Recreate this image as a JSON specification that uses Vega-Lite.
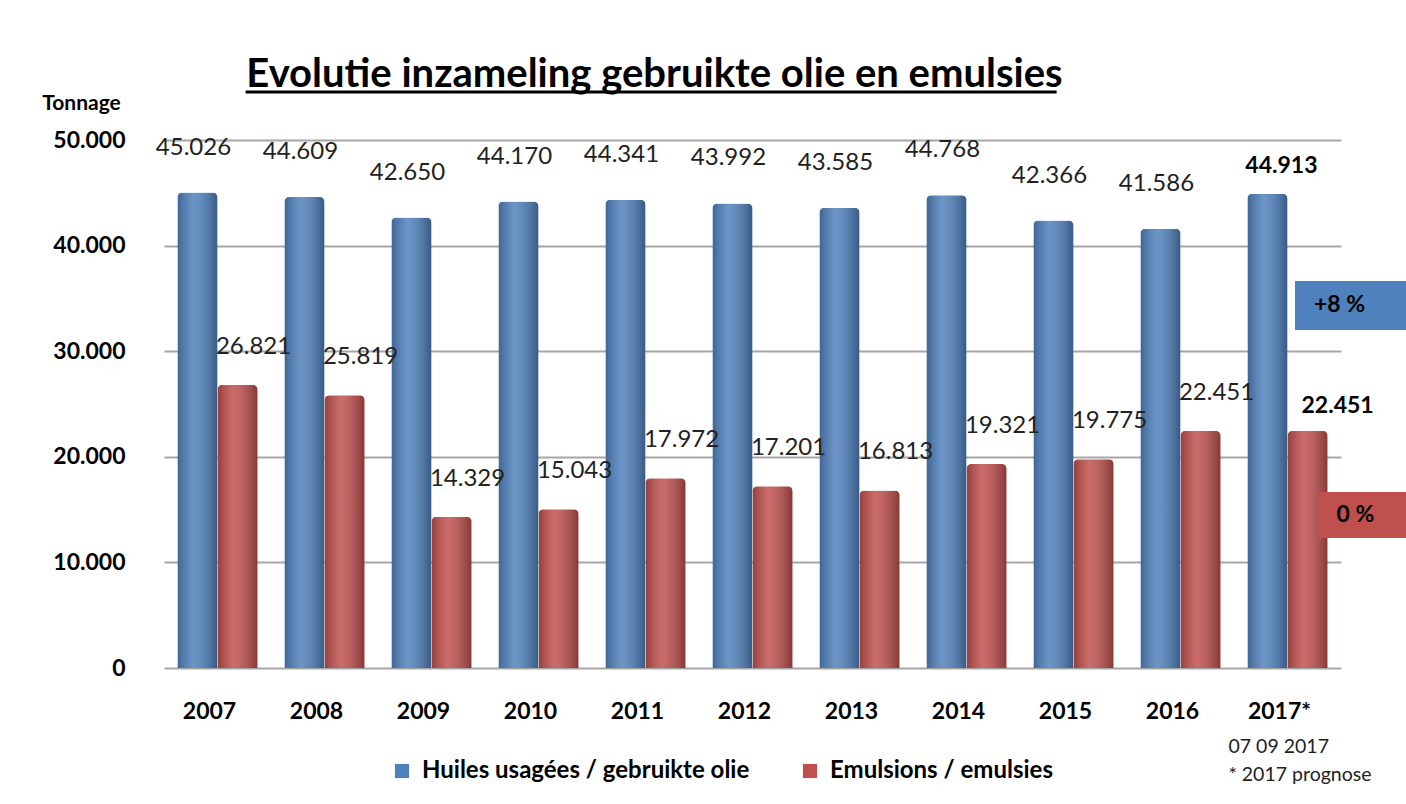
{
  "$schema": "https://vega.github.io/schema/vega-lite/v6.json",
  "width": 1177,
  "height": 528,
  "autosize": "none",
  "padding": {"left": 164, "top": 140, "right": 65, "bottom": 136},
  "background": "white",
  "title": {
    "text": "Evolutie inzameling gebruikte olie en emulsies",
    "anchor": "middle",
    "dx": -98,
    "dy": 92,
    "offset": 48,
    "baseline": "bottom",
    "font": "Lato",
    "fontSize": 40,
    "fontWeight": "bold",
    "color": "#000000"
  },
  "config": {
    "locale": {"number": {"decimal": ",", "thousands": ".", "grouping": [3], "currency": ["", " €"]}},
    "view": {"stroke": null},
    "font": "Lato"
  },
  "datasets": {
    "main": [
      {"year": "2007", "series": "Huiles usagées / gebruikte olie", "value": 45026},
      {"year": "2008", "series": "Huiles usagées / gebruikte olie", "value": 44609},
      {"year": "2009", "series": "Huiles usagées / gebruikte olie", "value": 42650},
      {"year": "2010", "series": "Huiles usagées / gebruikte olie", "value": 44170},
      {"year": "2011", "series": "Huiles usagées / gebruikte olie", "value": 44341},
      {"year": "2012", "series": "Huiles usagées / gebruikte olie", "value": 43992},
      {"year": "2013", "series": "Huiles usagées / gebruikte olie", "value": 43585},
      {"year": "2014", "series": "Huiles usagées / gebruikte olie", "value": 44768},
      {"year": "2015", "series": "Huiles usagées / gebruikte olie", "value": 42366},
      {"year": "2016", "series": "Huiles usagées / gebruikte olie", "value": 41586},
      {"year": "2017*", "series": "Huiles usagées / gebruikte olie", "value": 44913},
      {"year": "2007", "series": "Emulsions / emulsies", "value": 26821},
      {"year": "2008", "series": "Emulsions / emulsies", "value": 25819},
      {"year": "2009", "series": "Emulsions / emulsies", "value": 14329},
      {"year": "2010", "series": "Emulsions / emulsies", "value": 15043},
      {"year": "2011", "series": "Emulsions / emulsies", "value": 17972},
      {"year": "2012", "series": "Emulsions / emulsies", "value": 17201},
      {"year": "2013", "series": "Emulsions / emulsies", "value": 16813},
      {"year": "2014", "series": "Emulsions / emulsies", "value": 19321},
      {"year": "2015", "series": "Emulsions / emulsies", "value": 19775},
      {"year": "2016", "series": "Emulsions / emulsies", "value": 22451},
      {"year": "2017*", "series": "Emulsions / emulsies", "value": 22451}
    ],
    "notes": [
      {"year": "2017*", "series": "Huiles usagées / gebruikte olie", "label": "+8 %", "lo": 32008, "hi": 36648, "mid": 34330},
      {"year": "2017*", "series": "Emulsions / emulsies", "label": "0 %", "lo": 12311, "hi": 16667, "mid": 14490}
    ]
  },
  "data": {"name": "main"},
  "encoding": {
    "x": {
      "field": "year",
      "type": "nominal",
      "sort": null,
      "scale": {"paddingInner": 0.25, "paddingOuter": 0.125},
      "axis": {
        "labelAngle": 0,
        "labelFontSize": 23,
        "labelFontWeight": "bold",
        "labelColor": "#000000",
        "labelPadding": 32,
        "labelOffset": -8,
        "labelBaseline": "top",
        "ticks": false,
        "domain": false,
        "title": ["07 09 2017", "* 2017 prognose"],
        "titleFontSize": 19.5,
        "titleFontWeight": "normal",
        "titleColor": "#222222",
        "titleAlign": "left",
        "titleAnchor": "start",
        "titleBaseline": "top",
        "titleLineHeight": 28,
        "titleX": 1064,
        "titleY": 69
      }
    }
  },
  "layer": [
    {
      "mark": {"type": "bar", "cornerRadiusTopLeft": 5, "cornerRadiusTopRight": 5},
      "encoding": {
        "xOffset": {"field": "series", "type": "nominal", "sort": ["Huiles usagées / gebruikte olie", "Emulsions / emulsies"], "scale": {"paddingInner": 0, "paddingOuter": 0}},
        "y": {
          "field": "value",
          "type": "quantitative",
          "scale": {"domain": [0, 50000]},
          "axis": {
            "values": [0, 10000, 20000, 30000, 40000, 50000],
            "format": ",.0f",
            "labelFontSize": 23,
            "labelFontWeight": "bold",
            "labelColor": "#000000",
            "labelPadding": 39,
            "ticks": false,
            "domain": false,
            "grid": true,
            "gridColor": "#a6a6a6",
            "gridWidth": 2,
            "title": "Tonnage",
            "titleAngle": 0,
            "titleFontSize": 21,
            "titleFontWeight": "bold",
            "titleColor": "#000000",
            "titleAlign": "center",
            "titleBaseline": "middle",
            "titleX": -83,
            "titleY": -37
          }
        },
        "color": {
          "field": "series",
          "type": "nominal",
          "scale": {"domain": ["Huiles usagées / gebruikte olie", "Emulsions / emulsies"], "range": ["#4f81bd", "#c0504d"]},
          "legend": {
            "title": null,
            "orient": "none",
            "direction": "horizontal",
            "legendX": 226,
            "legendY": 619,
            "symbolType": "square",
            "symbolSize": 200,
            "symbolStrokeWidth": 0,
            "labelFontSize": 24,
            "labelFontWeight": "bold",
            "labelColor": "#000000",
            "labelLimit": 500,
            "labelOffset": 8,
            "columnPadding": 48
          }
        }
      }
    },
    {
      "mark": {
        "type": "bar",
        "cornerRadiusTopLeft": 5,
        "cornerRadiusTopRight": 5,
        "fill": {
          "gradient": "linear", "x1": 0, "x2": 1, "y1": 0, "y2": 0,
          "stops": [
            {"offset": 0, "color": "rgba(0,0,0,0.22)"},
            {"offset": 0.4, "color": "rgba(255,255,255,0.16)"},
            {"offset": 1, "color": "rgba(0,0,0,0.3)"}
          ]
        }
      },
      "encoding": {
        "xOffset": {"field": "series", "type": "nominal", "sort": ["Huiles usagées / gebruikte olie", "Emulsions / emulsies"]},
        "y": {"field": "value", "type": "quantitative"}
      }
    },
    {
      "data": {"values": [{}]},
      "mark": {"type": "rule", "color": "#000000", "strokeWidth": 3},
      "encoding": {
        "x": {"datum": "2007", "bandPosition": 0.85},
        "x2": {"datum": "2015", "bandPosition": 0.29},
        "y": {"datum": 54545}
      }
    },
    {
      "transform": [{"filter": "datum.year != '2017*' && datum.series == 'Huiles usagées / gebruikte olie'"}],
      "mark": {"type": "text", "dy": -45, "dx": -4, "fontSize": 24, "color": "#222222", "baseline": "middle"},
      "encoding": {
        "xOffset": {"field": "series", "type": "nominal", "sort": ["Huiles usagées / gebruikte olie", "Emulsions / emulsies"]},
        "y": {"field": "value", "type": "quantitative"},
        "text": {"field": "value", "type": "quantitative", "format": ",.0f"}
      }
    },
    {
      "transform": [{"filter": "datum.year != '2017*' && datum.series == 'Emulsions / emulsies'"}],
      "mark": {"type": "text", "dy": -38, "dx": 16, "fontSize": 24, "color": "#222222", "baseline": "middle"},
      "encoding": {
        "xOffset": {"field": "series", "type": "nominal", "sort": ["Huiles usagées / gebruikte olie", "Emulsions / emulsies"]},
        "y": {"field": "value", "type": "quantitative"},
        "text": {"field": "value", "type": "quantitative", "format": ",.0f"}
      }
    },
    {
      "transform": [{"filter": "datum.year == '2017*' && datum.series == 'Huiles usagées / gebruikte olie'"}],
      "mark": {"type": "text", "dy": -28, "dx": 14, "fontSize": 23, "fontWeight": "bold", "color": "#000000", "baseline": "middle"},
      "encoding": {
        "xOffset": {"field": "series", "type": "nominal", "sort": ["Huiles usagées / gebruikte olie", "Emulsions / emulsies"]},
        "y": {"field": "value", "type": "quantitative"},
        "text": {"field": "value", "type": "quantitative", "format": ",.0f"}
      }
    },
    {
      "transform": [{"filter": "datum.year == '2017*' && datum.series == 'Emulsions / emulsies'"}],
      "mark": {"type": "text", "dy": -25, "dx": 30, "fontSize": 23, "fontWeight": "bold", "color": "#000000", "baseline": "middle"},
      "encoding": {
        "xOffset": {"field": "series", "type": "nominal", "sort": ["Huiles usagées / gebruikte olie", "Emulsions / emulsies"]},
        "y": {"field": "value", "type": "quantitative"},
        "text": {"field": "value", "type": "quantitative", "format": ",.0f"}
      }
    },
    {
      "data": {"name": "notes"},
      "transform": [{"filter": "datum.series == 'Huiles usagées / gebruikte olie'"}],
      "mark": {"type": "bar", "width": 111, "xOffset": 63, "color": "#4f81bd"},
      "encoding": {
        "y": {"field": "lo", "type": "quantitative"},
        "y2": {"field": "hi"}
      }
    },
    {
      "data": {"name": "notes"},
      "transform": [{"filter": "datum.series == 'Emulsions / emulsies'"}],
      "mark": {"type": "bar", "width": 88, "xOffset": 75, "color": "#c0504d"},
      "encoding": {
        "y": {"field": "lo", "type": "quantitative"},
        "y2": {"field": "hi"}
      }
    },
    {
      "data": {"name": "notes"},
      "transform": [{"filter": "datum.series == 'Huiles usagées / gebruikte olie'"}],
      "mark": {"type": "text", "xOffset": 52, "fontSize": 23, "fontWeight": "bold", "color": "#000000", "baseline": "middle"},
      "encoding": {
        "y": {"field": "mid", "type": "quantitative"},
        "text": {"field": "label"}
      }
    },
    {
      "data": {"name": "notes"},
      "transform": [{"filter": "datum.series == 'Emulsions / emulsies'"}],
      "mark": {"type": "text", "xOffset": 68, "fontSize": 23, "fontWeight": "bold", "color": "#000000", "baseline": "middle"},
      "encoding": {
        "y": {"field": "mid", "type": "quantitative"},
        "text": {"field": "label"}
      }
    }
  ]
}
